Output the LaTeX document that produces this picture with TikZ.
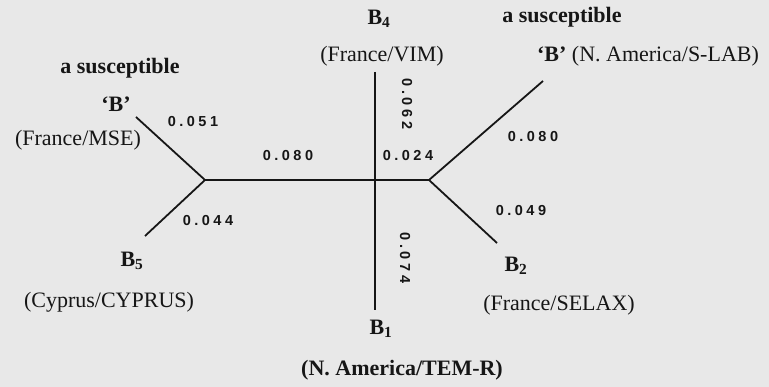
\documentclass[tikz,border=0pt]{standalone}
\usepackage{fontspec}
\setmainfont{Liberation Serif}
\newfontfamily\numfont[LetterSpace=24]{Liberation Sans}
\usetikzlibrary{positioning}
\definecolor{PaperGray}{RGB}{232,232,232}
\definecolor{InkBlack}{RGB}{22,22,22}

\begin{document}
\begin{tikzpicture}[
    x=1pt, y=-1pt,
    branch/.style={draw=InkBlack, line width=1.8pt},
    taxon/.style={inner sep=0pt, text=InkBlack, font=\fontsize{22}{24}\selectfont\bfseries},
    origin/.style={inner sep=0pt, text=InkBlack, font=\fontsize{22}{24}\selectfont},
    dist/.style={inner sep=0pt, text=InkBlack, font=\numfont\fontsize{14.5}{16}\selectfont\bfseries},
]
    \fill[PaperGray] (0,0) rectangle (769,387);
    \useasboundingbox (0,0) rectangle (769,387);

    % inner nodes and tips of the tree
    \coordinate (nl) at (205,180);
    \coordinate (nr) at (429,180);
    \coordinate (t4) at (375,72);
    \coordinate (t1) at (375,310);
    \coordinate (tmse) at (136,117);
    \coordinate (t5) at (145,236);
    \coordinate (tlab) at (543,81);
    \coordinate (t2) at (497,243);

    \draw[branch] (nl) -- (nr);
    \draw[branch] (t4) -- (t1);
    \draw[branch] (tmse) -- (nl) -- (t5);
    \draw[branch] (tlab) -- (nr) -- (t2);

    % branch lengths
    \node[dist] (d051) at (193,122) {0.051};
    \node[dist] (d044) at (208,221) {0.044};
    \node[dist] (d080l) at (288,156) {0.080};
    \node[dist] (d024) at (408,156) {0.024};
    \node[dist, rotate=-90] (d062) at (407,104) {0.062};
    \node[dist, rotate=-90] (d074) at (405,258) {0.074};
    \node[dist] (d080r) at (533,137) {0.080};
    \node[dist] (d049) at (521,211) {0.049};

    % strains
    \node[taxon] (b4) at (379,19) {B\textsubscript{4}};
    \node[origin] (vim) at (382,56) {(France/VIM)};
    \node[taxon] (susr) at (562,17) {a susceptible};
    \node[origin] (slab) at (648,56) {\textbf{`B'} (N. America/S-LAB)};
    \node[taxon] (susl) at (120,68) {a susceptible};
    \node[taxon] (bmse) at (116,104) {`B'};
    \node[origin] (mse) at (78,140) {(France/MSE)};
    \node[taxon] (b5) at (132,261) {B\textsubscript{5}};
    \node[origin] (cyp) at (109,302) {(Cyprus/CYPRUS)};
    \node[taxon] (b1) at (381,329) {B\textsubscript{1}};
    \node[taxon] (temr) at (402,370) {(N. America/TEM-R)};
    \node[taxon] (b2) at (516,266) {B\textsubscript{2}};
    \node[origin] (selax) at (559,305) {(France/SELAX)};
\end{tikzpicture}
\end{document}
